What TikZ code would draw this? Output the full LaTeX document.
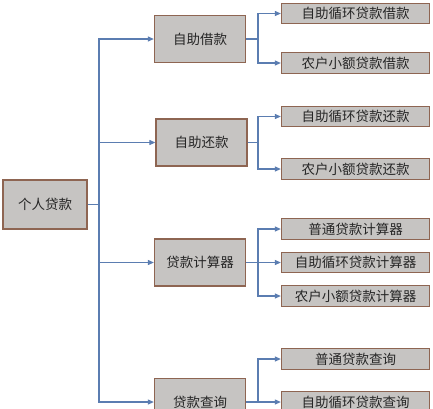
\documentclass[tikz,border=0pt]{standalone}
\usepackage{fontspec}
\setmainfont{Noto Sans CJK SC}
\usetikzlibrary{arrows.meta}
\definecolor{boxfill}{HTML}{C6C4C2}
\definecolor{boxline}{HTML}{8E6552}
\definecolor{conn}{HTML}{5B7DB1}
\begin{document}
\begin{tikzpicture}[x=1pt,y=-1pt,
  box/.style={draw=boxline,fill=boxfill,line width=1.3pt,inner sep=0pt,font=\fontsize{13.5}{15}\selectfont,text=black!85},
  midbox/.style={box,minimum width=91pt,minimum height=47pt},
  leaf/.style={box,minimum width=148pt,minimum height=20.5pt},
  link/.style={draw=conn,line width=1.1pt},
  arr/.style={link,-{Triangle[length=6pt,width=5pt]}}]
\clip (0,0) rectangle (433,408);
\fill[white] (0,0) rectangle (433,408);
% root
\node[box,minimum width=84pt,minimum height=49pt] (root) at (45,204.5) {个人贷款};
% level 1
\node[midbox] (a1) at (200,39) {自助借款};
\node[midbox] (a2) at (201.5,142.5) {自助还款};
\node[midbox] (a3) at (200,262.5) {贷款计算器};
\node[midbox] (a4) at (200,402) {贷款查询};
% leaves
\node[leaf] (b1) at (355.5,13.5) {自助循环贷款借款};
\node[leaf] (b2) at (355.5,63) {农户小额贷款借款};
\node[leaf] (b3) at (355.5,116.5) {自助循环贷款还款};
\node[leaf] (b4) at (355.5,169) {农户小额贷款还款};
\node[leaf] (b5) at (355.5,229) {普通贷款计算器};
\node[leaf] (b6) at (355.5,262.5) {自助循环贷款计算器};
\node[leaf] (b7) at (355.5,296) {农户小额贷款计算器};
\node[leaf] (b8) at (355.5,359) {普通贷款查询};
\node[leaf] (b9) at (355.5,402) {自助循环贷款查询};
% trunk
\coordinate (t) at (99,204.5);
\draw[link] (root.east) -- (t);
\foreach \n in {a1,a2,a3,a4} \draw[arr] (t) |- (\n.west);
% junctions
\coordinate (j1) at (258,39);
\coordinate (j2) at (258,142.5);
\coordinate (j3) at (258,262.5);
\coordinate (j4) at (258,402);
\draw[link] (a1.east) -- (j1);
\draw[link] (a2.east) -- (j2);
\draw[link] (a3.east) -- (j3);
\draw[link] (a4.east) -- (j4);
\foreach \n in {b1,b2} \draw[arr] (j1) |- (\n.west);
\foreach \n in {b3,b4} \draw[arr] (j2) |- (\n.west);
\foreach \n in {b5,b6,b7} \draw[arr] (j3) |- (\n.west);
\foreach \n in {b8,b9} \draw[arr] (j4) |- (\n.west);
\end{tikzpicture}
\end{document}
